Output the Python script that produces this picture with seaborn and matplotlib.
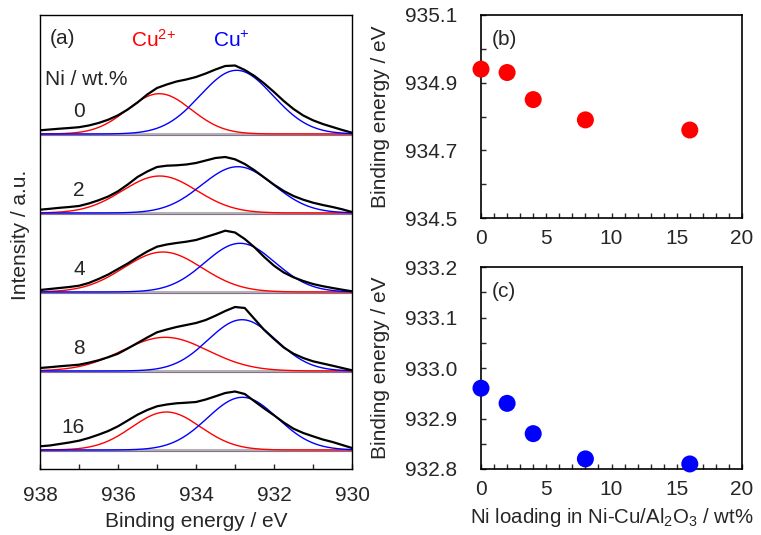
import numpy as np
import pandas as pd
import matplotlib
matplotlib.use("Agg")
import matplotlib.pyplot as plt
from matplotlib.ticker import MultipleLocator, FormatStrFormatter
import seaborn as sns

# Ni loading of the catalysts (wt.%)
ni_loading = [0, 2, 4, 8, 16]

# fitted Cu 2p3/2 peak positions (eV), panels (b) and (c)
cu2_be = [934.94, 934.93, 934.85, 934.79, 934.76]
cu1_be = [932.96, 932.93, 932.87, 932.82, 932.81]

# fitted peak heights (a.u.) and widths (FWHM, eV) for panel (a)
cu2_height = [40.3, 37.0, 40.0, 33.7, 38.0]
cu2_fwhm = [1.93, 2.24, 2.36, 2.59, 2.07]
cu1_height = [63.7, 46.3, 48.7, 51.3, 52.7]
cu1_fwhm = [2.19, 2.17, 2.12, 2.05, 2.12]

# measured spectra (a.u.), read every 0.25 eV from 938 down to 930
energy = [938.00, 937.75, 937.50, 937.25, 937.00, 936.75, 936.50, 936.25,
          936.00, 935.75, 935.50, 935.25, 935.00, 934.75, 934.50, 934.25,
          934.00, 933.75, 933.50, 933.25, 933.00, 932.75, 932.50, 932.25,
          932.00, 931.75, 931.50, 931.25, 931.00, 930.75, 930.50, 930.25,
          930.00]
spec_0 = [3.7, 4.5, 5.3, 6.0, 6.8, 8.5, 11.0, 14.3, 18.7, 24.5, 31.5, 39.5,
          46.0, 49.5, 52.5, 54.5, 57.0, 60.5, 64.5, 68.0, 68.5, 64.0, 58.0,
          50.5, 42.0, 33.0, 25.0, 18.5, 13.7, 10.0, 7.0, 4.0, 1.3]
spec_2 = [3.3, 4.2, 5.2, 6.0, 7.0, 9.5, 12.7, 16.5, 21.7, 28.5, 36.0, 41.5,
          46.0, 47.3, 47.7, 48.5, 50.0, 52.5, 55.0, 56.0, 53.7, 49.0, 42.7,
          35.5, 28.3, 22.0, 17.0, 13.3, 10.3, 8.0, 6.0, 3.7, 1.0]
spec_4 = [2.0, 3.0, 4.0, 5.0, 6.3, 9.0, 13.0, 17.5, 23.0, 28.5, 34.7, 40.5,
          45.3, 47.5, 49.0, 50.3, 52.0, 55.0, 58.0, 61.3, 59.5, 53.0, 44.7,
          35.0, 26.3, 19.5, 14.7, 11.0, 8.0, 5.8, 4.0, 2.3, 0.7]
spec_8 = [3.0, 3.8, 4.7, 5.5, 6.3, 8.3, 10.7, 13.8, 17.3, 22.5, 28.0, 33.5,
          38.7, 41.5, 44.0, 46.0, 48.0, 51.0, 55.3, 60.0, 64.0, 63.0, 52.0,
          41.0, 32.0, 23.5, 17.3, 13.0, 9.7, 7.5, 5.3, 3.0, 0.7]
spec_16 = [3.7, 4.5, 6.0, 7.5, 9.3, 12.0, 15.3, 19.0, 23.7, 29.5, 35.3, 40.0,
           43.7, 45.5, 46.7, 47.3, 48.0, 50.5, 53.7, 57.0, 58.5, 56.0, 48.7,
           41.5, 34.7, 27.5, 21.3, 17.0, 13.7, 10.5, 8.0, 5.0, 2.0]
spectra = [spec_0, spec_2, spec_4, spec_8, spec_16]

STEP = 79  # vertical offset between stacked spectra


def gauss(x, c, h, w):
    return h * np.exp(-4 * np.log(2) * (x - c) ** 2 / w ** 2)


sns.set_theme(style="ticks")
plt.rcParams["font.family"] = ["Liberation Sans", "DejaVu Sans"]
plt.rcParams["mathtext.fontset"] = "custom"
plt.rcParams["mathtext.rm"] = "Liberation Sans"
plt.rcParams["mathtext.it"] = "Liberation Sans:italic"
plt.rcParams["mathtext.default"] = "regular"
FS = 15

fig = plt.figure(figsize=(7.61, 5.35), dpi=100)
W, H = 761, 535


def px_axes(x0, y0, x1, y1):
    return fig.add_axes([x0 / W, 1 - y1 / H, (x1 - x0) / W, (y1 - y0) / H])


ax_a = px_axes(40, 15, 352, 469)
ax_b = px_axes(481, 15, 742, 218)
ax_c = px_axes(481, 267, 742, 469)

# ---- panel (a)
rows, comp = [], []
xfit = np.linspace(930, 938, 400)
for i, ni in enumerate(ni_loading):
    off = STEP * (len(ni_loading) - 1 - i)
    for e, v in zip(energy, spectra[i]):
        rows.append({"sample": ni, "energy": e, "y": v + off})
    for part, c, h, w in [("cu2", cu2_be[i], cu2_height[i], cu2_fwhm[i]),
                          ("cu1", cu1_be[i], cu1_height[i], cu1_fwhm[i])]:
        for xv, yv in zip(xfit, gauss(xfit, c, h, w)):
            comp.append({"sample": ni, "part": part, "energy": xv, "y": yv + off})
    ax_a.axhline(off, color="#b3b3b3", lw=2.2, zorder=1)
    ax_a.axhline(off - 1.3, color="#8a6f8f", lw=0.8, zorder=1)
    ax_a.text(936.85, off + 17, str(ni), fontsize=FS, ha="right", va="baseline")

df_spec = pd.DataFrame(rows)
df_comp = pd.DataFrame(comp)
sns.lineplot(data=df_comp[df_comp.part == "cu2"], x="energy", y="y", units="sample",
             estimator=None, sort=False, color="#ff0000", lw=1.0, ax=ax_a, zorder=2)
sns.lineplot(data=df_comp[df_comp.part == "cu1"], x="energy", y="y", units="sample",
             estimator=None, sort=False, color="#0000ff", lw=1.0, ax=ax_a, zorder=2)
sns.lineplot(data=df_spec, x="energy", y="y", units="sample", estimator=None,
             sort=False, color="black", lw=1.6, ax=ax_a, zorder=3)

ax_a.set_xlim(938, 930)
ax_a.set_ylim(-19, 435)
ax_a.set_yticks([])
ax_a.xaxis.set_major_locator(MultipleLocator(2))
ax_a.xaxis.set_minor_locator(MultipleLocator(1))
ax_a.tick_params(axis="x", which="both", direction="in", length=3.6, width=1,
                 labelsize=FS, pad=12, top=False)
ax_a.set_xlabel("Binding energy / eV", fontsize=FS, labelpad=5)
ax_a.set_ylabel("Intensity / a.u.", fontsize=FS)
ax_a.yaxis.set_label_coords(-0.032, 0.515)
ax_a.text(937.42, 411, "(a)", fontsize=FS, ha="center", va="center")
ax_a.text(935.66, 403, "Cu$^{2{+}}$", fontsize=FS, color="#ff0000", ha="left", va="baseline")
ax_a.text(933.56, 403, "Cu$^{+}$", fontsize=FS, color="#0000ff", ha="left", va="baseline")
ax_a.text(937.87, 365, "Ni / wt.%", fontsize=FS, ha="left", va="baseline")
for s in ax_a.spines.values():
    s.set_color("black")
    s.set_linewidth(1.0)

# ---- panels (b) and (c)
for ax, vals, col, lo, hi, maj, mnr, tag in [
        (ax_b, cu2_be, "#ff0000", 934.5, 935.1, 0.2, 0.1, "(b)"),
        (ax_c, cu1_be, "#0000ff", 932.8, 933.2, 0.1, 0.05, "(c)")]:
    sns.scatterplot(x=ni_loading, y=vals, color=col, s=150, edgecolor="none",
                    ax=ax, clip_on=False, zorder=3)
    ax.set_xlim(0, 20)
    ax.set_ylim(lo, hi)
    ax.xaxis.set_major_locator(MultipleLocator(5))
    ax.xaxis.set_minor_locator(MultipleLocator(1))
    ax.yaxis.set_major_locator(MultipleLocator(maj, offset=lo % maj))
    ax.yaxis.set_minor_locator(MultipleLocator(mnr))
    ax.yaxis.set_major_formatter(FormatStrFormatter("%.1f"))
    ax.tick_params(axis="both", which="both", direction="in", length=3.6,
                   width=1, labelsize=FS, top=False, right=False)
    ax.tick_params(axis="x", pad=8)
    ax.tick_params(axis="y", pad=17)
    ax.set_ylabel("Binding energy / eV", fontsize=FS)
    ax.yaxis.set_label_coords(-0.347, 0.5)
    ax.text(0.042, 0.88, tag, transform=ax.transAxes, fontsize=FS,
            ha="left", va="center")
    for s in ax.spines.values():
        s.set_color("black")
        s.set_linewidth(1.2)

ax_b.set_xlabel("")
ax_c.set_xlabel("Ni loading in Ni-Cu/Al$_2$O$_3$ / wt%", fontsize=14.7, labelpad=5)

fig.savefig("out.png", dpi=100)
